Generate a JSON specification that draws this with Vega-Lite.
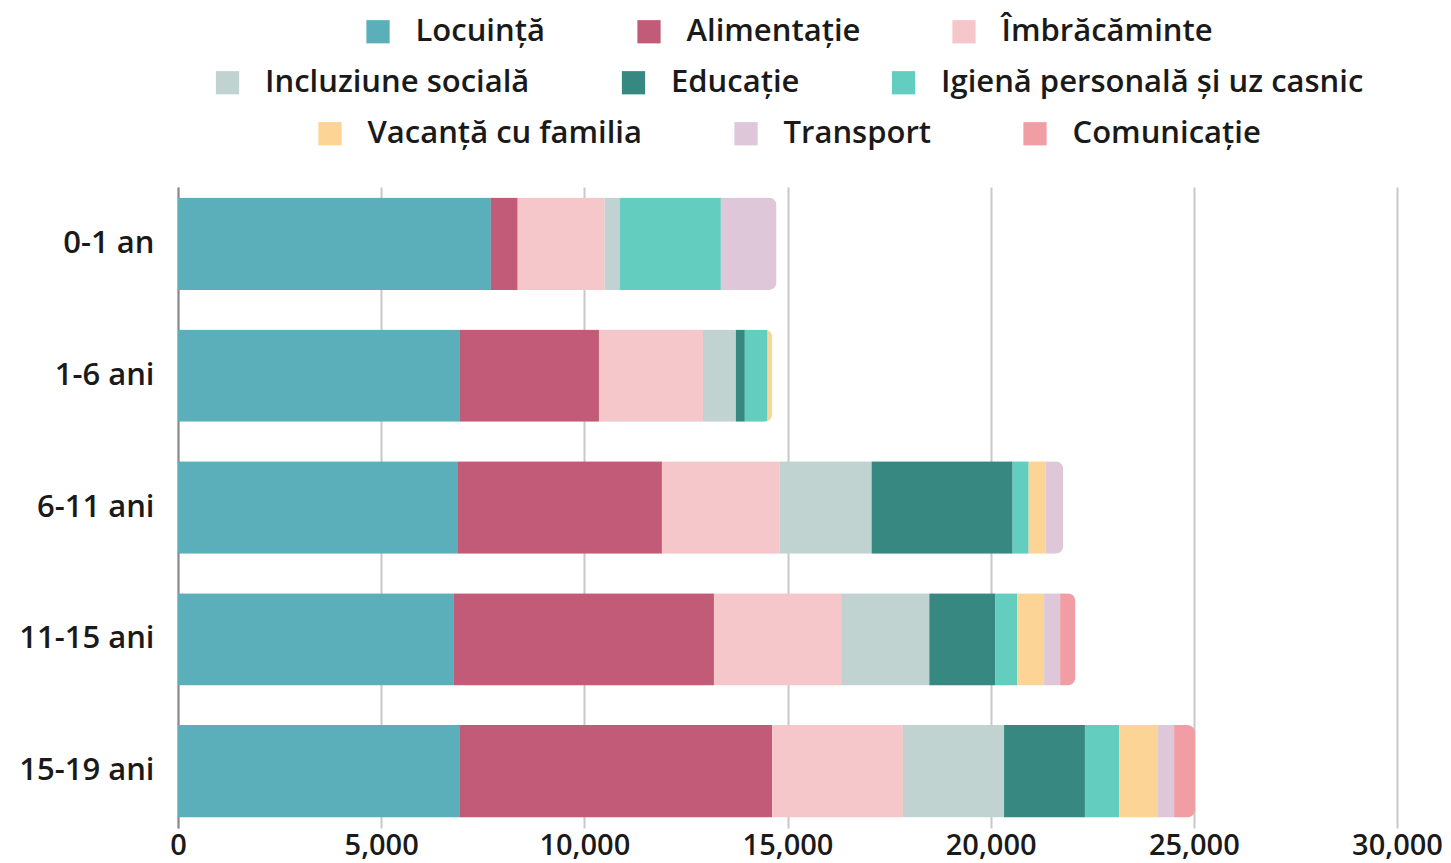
{
  "$schema": "https://vega.github.io/schema/vega-lite/v6.json",
  "width": 1219,
  "height": 641,
  "autosize": {"type": "none"},
  "padding": {"left": 178, "top": 187, "right": 54, "bottom": 35},
  "background": "white",
  "data": {"values": [
    {"age": "0-1 an", "cat": "Locuință", "k": 1, "value": 7700},
    {"age": "0-1 an", "cat": "Alimentație", "k": 2, "value": 660},
    {"age": "0-1 an", "cat": "Îmbrăcăminte", "k": 3, "value": 2140},
    {"age": "0-1 an", "cat": "Incluziune socială", "k": 4, "value": 370},
    {"age": "0-1 an", "cat": "Igienă personală și uz casnic", "k": 6, "value": 2490},
    {"age": "0-1 an", "cat": "Transport", "k": 8, "value": 1370},
    {"age": "1-6 ani", "cat": "Locuință", "k": 1, "value": 6940},
    {"age": "1-6 ani", "cat": "Alimentație", "k": 2, "value": 3420},
    {"age": "1-6 ani", "cat": "Îmbrăcăminte", "k": 3, "value": 2560},
    {"age": "1-6 ani", "cat": "Incluziune socială", "k": 4, "value": 810},
    {"age": "1-6 ani", "cat": "Educație", "k": 5, "value": 220},
    {"age": "1-6 ani", "cat": "Igienă personală și uz casnic", "k": 6, "value": 560},
    {"age": "1-6 ani", "cat": "Vacanță cu familia", "k": 7, "value": 115},
    {"age": "6-11 ani", "cat": "Locuință", "k": 1, "value": 6890},
    {"age": "6-11 ani", "cat": "Alimentație", "k": 2, "value": 5020},
    {"age": "6-11 ani", "cat": "Îmbrăcăminte", "k": 3, "value": 2900},
    {"age": "6-11 ani", "cat": "Incluziune socială", "k": 4, "value": 2260},
    {"age": "6-11 ani", "cat": "Educație", "k": 5, "value": 3470},
    {"age": "6-11 ani", "cat": "Igienă personală și uz casnic", "k": 6, "value": 395},
    {"age": "6-11 ani", "cat": "Vacanță cu familia", "k": 7, "value": 420},
    {"age": "6-11 ani", "cat": "Transport", "k": 8, "value": 430},
    {"age": "11-15 ani", "cat": "Locuință", "k": 1, "value": 6790},
    {"age": "11-15 ani", "cat": "Alimentație", "k": 2, "value": 6400},
    {"age": "11-15 ani", "cat": "Îmbrăcăminte", "k": 3, "value": 3130},
    {"age": "11-15 ani", "cat": "Incluziune socială", "k": 4, "value": 2170},
    {"age": "11-15 ani", "cat": "Educație", "k": 5, "value": 1620},
    {"age": "11-15 ani", "cat": "Igienă personală și uz casnic", "k": 6, "value": 540},
    {"age": "11-15 ani", "cat": "Vacanță cu familia", "k": 7, "value": 665},
    {"age": "11-15 ani", "cat": "Transport", "k": 8, "value": 395},
    {"age": "11-15 ani", "cat": "Comunicație", "k": 9, "value": 375},
    {"age": "15-19 ani", "cat": "Locuință", "k": 1, "value": 6940},
    {"age": "15-19 ani", "cat": "Alimentație", "k": 2, "value": 7680},
    {"age": "15-19 ani", "cat": "Îmbrăcăminte", "k": 3, "value": 3220},
    {"age": "15-19 ani", "cat": "Incluziune socială", "k": 4, "value": 2490},
    {"age": "15-19 ani", "cat": "Educație", "k": 5, "value": 1990},
    {"age": "15-19 ani", "cat": "Igienă personală și uz casnic", "k": 6, "value": 840},
    {"age": "15-19 ani", "cat": "Vacanță cu familia", "k": 7, "value": 960},
    {"age": "15-19 ani", "cat": "Transport", "k": 8, "value": 395},
    {"age": "15-19 ani", "cat": "Comunicație", "k": 9, "value": 515}
  ]},
  "encoding": {
    "y": {
      "field": "age", "type": "nominal",
      "sort": ["0-1 an", "1-6 ani", "6-11 ani", "11-15 ani", "15-19 ani"],
      "scale": {"paddingInner": 0.3, "paddingOuter": 0.08},
      "axis": {"title": null, "ticks": false, "labelPadding": 24, "domain": true, "domainColor": "#8a8a8a", "domainWidth": 2, "labelFontSize": 31, "labelFont": "Open Sans", "labelFontWeight": 600, "labelColor": "#1a1a1a", "grid": false}
    },
    "x": {
      "field": "value", "type": "quantitative", "aggregate": "sum", "stack": "zero",
      "scale": {"domain": [0, 30000], "nice": false},
      "axis": {"title": null, "values": [0, 5000, 10000, 15000, 20000, 25000, 30000], "format": ",d", "domain": false, "ticks": false, "labelPadding": 3, "labelFontSize": 29, "labelFont": "Open Sans", "labelFontWeight": 600, "labelColor": "#1a1a1a", "labelFlush": false, "grid": true, "gridColor": "#c8c8c8", "gridWidth": 2}
    }
  },
  "layer": [
    {
      "mark": {"type": "bar", "cornerRadiusEnd": 8},
      "encoding": {
        "color": {
          "field": "cat", "type": "nominal",
          "scale": {
            "domain": ["Locuință", "Alimentație", "Îmbrăcăminte", "Incluziune socială", "Educație", "Igienă personală și uz casnic", "Vacanță cu familia", "Transport", "Comunicație"],
            "range": ["#5BAFBA", "#C25B77", "#F5C7CB", "#C0D3D1", "#368880", "#63CDC0", "#FBD496", "#DDC7D8", "#F09DA3"]
          },
          "legend": null
        },
        "order": {"field": "k", "type": "quantitative"}
      }
    },
    {
      "transform": [{"filter": "false"}],
      "mark": {"type": "bar"},
      "encoding": {
        "color": {
          "field": "cat", "type": "nominal",
          "scale": {"domain": ["Locuință", "Alimentație", "Îmbrăcăminte"], "range": ["#5BAFBA", "#C25B77", "#F5C7CB"]},
          "legend": {"title": null, "orient": "top", "direction": "horizontal", "offset": 38}
        }
      }
    },
    {
      "transform": [{"filter": "false"}],
      "mark": {"type": "bar"},
      "encoding": {
        "color": {
          "field": "cat", "type": "nominal",
          "scale": {"domain": ["Incluziune socială", "Educație", "Igienă personală și uz casnic"], "range": ["#C0D3D1", "#368880", "#63CDC0"]},
          "legend": {"title": null, "orient": "top", "direction": "horizontal", "offset": 38}
        }
      }
    },
    {
      "transform": [{"filter": "false"}],
      "mark": {"type": "bar"},
      "encoding": {
        "color": {
          "field": "cat", "type": "nominal",
          "scale": {"domain": ["Vacanță cu familia", "Transport", "Comunicație"], "range": ["#FBD496", "#DDC7D8", "#F09DA3"]},
          "legend": {"title": null, "orient": "top", "direction": "horizontal", "offset": 38}
        }
      }
    }
  ],
  "resolve": {"scale": {"color": "independent"}, "legend": {"color": "independent"}},
  "config": {
    "view": {"stroke": null},
    "legend": {
      "layout": {"top": {"anchor": "middle", "direction": "vertical", "margin": 20, "center": true}},
      "padding": 0,
      "labelFont": "Open Sans",
      "labelFontSize": 31,
      "labelFontWeight": 600,
      "labelColor": "#1a1a1a",
      "labelLimit": 700,
      "labelOffset": 22,
      "columnPadding": 88,
      "symbolType": "square",
      "symbolSize": 540,
      "symbolStrokeWidth": 0,
      "symbolOpacity": 1
    }
  }
}
